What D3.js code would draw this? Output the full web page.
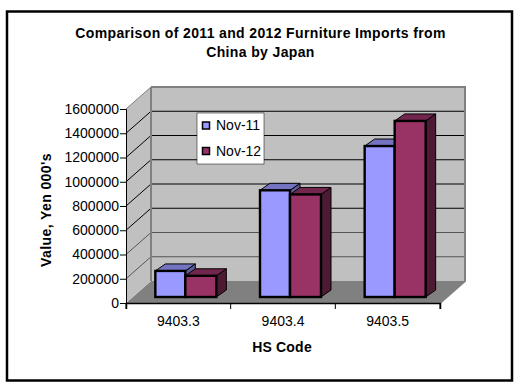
<!DOCTYPE html>
<html>
<head>
<meta charset="utf-8">
<script src="https://cdn.jsdelivr.net/npm/d3@7"></script>
<style>
  html, body { margin: 0; padding: 0; background: #fff; }
  svg { display: block; font-family: "Liberation Sans", Arial, sans-serif; }
</style>
</head>
<body>
<div id="chart"></div>
<script>
const CATEGORIES = ['9403.3', '9403.4', '9403.5'];
const SERIES_NAMES = ['Nov-11', 'Nov-12'];
const NOV_11 = [215000, 880000, 1245000];
const NOV_12 = [175000, 846000, 1452000];
const Y_TICKS = [0, 200000, 400000, 600000, 800000, 1000000, 1200000, 1400000, 1600000];
const TITLE_LINES = ['Comparison of 2011 and 2012 Furniture Imports from', 'China by Japan'];

const COLORS = [
  { front: '#9999ff', top: '#7373bf', side: '#5c5c99' },
  { front: '#993366', top: '#73264d', side: '#4d1a33' }
];

const WIDTH = 526;
const HEIGHT = 391;
const PLOT = { left: 126, right: 440, top: 109, bottom: 303 };
const DEPTH = { x: 25, y: -22 };
const BAR_DEPTH = { x: 10, y: -7 };
const BAR_OFFSET = { x: 7, y: -6 };

const svg = d3.select('#chart').append('svg')
  .attr('width', WIDTH)
  .attr('height', HEIGHT);

// outer frame
svg.append('rect')
  .attr('x', 7).attr('y', 11.5)
  .attr('width', 505).attr('height', 369)
  .attr('fill', '#fff')
  .attr('stroke', '#000')
  .attr('stroke-width', 2.5);

const xScale = d3.scaleBand().domain(CATEGORIES).range([PLOT.left, PLOT.right]).paddingInner(0).paddingOuter(0);
const yScale = d3.scaleLinear().domain([0, 1600000]).range([PLOT.bottom, PLOT.top]);

const pts = (arr) => arr.map((p) => p.join(',')).join(' ');

// walls and floor
const backX0 = PLOT.left + DEPTH.x;
const backX1 = PLOT.right + DEPTH.x;
const backTop = PLOT.top + DEPTH.y;
const backBottom = PLOT.bottom + DEPTH.y;

svg.append('polygon')
  .attr('points', pts([[PLOT.left, PLOT.bottom], [backX0, backBottom], [backX1, backBottom], [PLOT.right, PLOT.bottom]]))
  .attr('fill', '#808080');
svg.append('polygon')
  .attr('points', pts([[PLOT.left, PLOT.top], [backX0, backTop], [backX0, backBottom], [PLOT.left, PLOT.bottom]]))
  .attr('fill', '#c0c0c0');
svg.append('rect')
  .attr('x', backX0).attr('y', backTop)
  .attr('width', backX1 - backX0).attr('height', backBottom - backTop)
  .attr('fill', '#c0c0c0');

// gridlines, along the side wall and across the back
for (const t of Y_TICKS.slice(1, -1)) {
  svg.append('polyline')
    .attr('points', pts([[PLOT.left, yScale(t)], [backX0, yScale(t) + DEPTH.y], [backX1, yScale(t) + DEPTH.y]]))
    .attr('fill', 'none')
    .attr('stroke', t <= 400000 ? '#555' : '#000')
    .attr('stroke-width', 1);
}

// wall edges
svg.append('polyline')
  .attr('points', pts([[backX0, backTop], [backX1, backTop], [backX1, backBottom], [PLOT.right, PLOT.bottom]]))
  .attr('fill', 'none')
  .attr('stroke', '#808080')
  .attr('stroke-width', 2);
svg.append('line')
  .attr('x1', backX0).attr('x2', backX0)
  .attr('y1', backTop).attr('y2', backBottom)
  .attr('stroke', '#808080')
  .attr('stroke-width', 2);
svg.append('line')
  .attr('x1', PLOT.left).attr('x2', backX0)
  .attr('y1', PLOT.top).attr('y2', backTop)
  .attr('stroke', '#808080');

// bars
const BAR_WIDTHS = [30, 31];
const baseY = PLOT.bottom + BAR_OFFSET.y;

function drawBar(x0, barW, value, color) {
  const x1 = x0 + barW;
  const topY = yScale(value) + BAR_OFFSET.y;
  const dx = BAR_DEPTH.x;
  const dy = BAR_DEPTH.y;
  const g = svg.append('g').attr('stroke', '#000').attr('stroke-linejoin', 'miter');
  g.append('polygon')
    .attr('points', pts([[x1, topY], [x1 + dx, topY + dy], [x1 + dx, baseY + dy], [x1, baseY]]))
    .attr('fill', color.side).attr('stroke-width', 1);
  g.append('polygon')
    .attr('points', pts([[x0, topY], [x0 + dx, topY + dy], [x1 + dx, topY + dy], [x1, topY]]))
    .attr('fill', color.top).attr('stroke-width', 1);
  g.append('rect')
    .attr('x', x0).attr('y', topY)
    .attr('width', barW).attr('height', baseY - topY)
    .attr('fill', color.front)
    .attr('stroke-width', 2.4);
}

CATEGORIES.forEach((c, i) => {
  const cx = xScale(c) + xScale.bandwidth() / 2 + BAR_OFFSET.x;
  drawBar(cx - BAR_WIDTHS[0], BAR_WIDTHS[0], NOV_11[i], COLORS[0]);
  drawBar(cx, BAR_WIDTHS[1], NOV_12[i], COLORS[1]);
});

// axes
const yAxis = d3.axisLeft(yScale).tickValues(Y_TICKS).tickSize(6).tickPadding(1).tickFormat((d) => String(d));
const yG = svg.append('g').attr('transform', `translate(${PLOT.left},0)`).call(yAxis);
yG.selectAll('text').attr('font-size', 14).attr('fill', '#000');

const xAxis = d3.axisBottom(xScale).tickSize(6).tickSizeOuter(6).tickPadding(7);
const xG = svg.append('g').attr('transform', `translate(0,${PLOT.bottom})`).call(xAxis);
xG.selectAll('.tick line')
  .attr('transform', `translate(${xScale.bandwidth() / 2},0)`);
xG.append('line')
  .attr('x1', PLOT.left).attr('x2', PLOT.left)
  .attr('y1', 0).attr('y2', 6)
  .attr('stroke', '#000');
xG.selectAll('text').attr('font-size', 14).attr('fill', '#000');
xG.select('.domain').attr('stroke', '#000').attr('stroke-width', 1.5);
yG.select('.domain').attr('stroke', '#000');

// titles
svg.append('text')
  .attr('y', 37.5)
  .attr('text-anchor', 'middle')
  .attr('font-size', 14).attr('font-weight', 'bold')
  .attr('letter-spacing', 0.36)
  .selectAll('tspan').data(TITLE_LINES).join('tspan')
  .attr('x', 260.5)
  .attr('dy', (d, i) => (i ? 19 : 0))
  .text((d) => d);

svg.append('text')
  .attr('x', 282).attr('y', 352)
  .attr('text-anchor', 'middle')
  .attr('font-size', 14).attr('font-weight', 'bold')
  .attr('letter-spacing', 0.2)
  .text('HS Code');

svg.append('text')
  .attr('transform', 'translate(51,210) rotate(-90)')
  .attr('text-anchor', 'middle')
  .attr('font-size', 14).attr('font-weight', 'bold')
  .attr('letter-spacing', 0.4)
  .text("Value, Yen 000's");

// legend
const legendG = svg.append('g').attr('transform', 'translate(197,113)');
legendG.append('rect')
  .attr('width', 67).attr('height', 51)
  .attr('fill', '#fff')
  .attr('stroke', '#000')
  .attr('stroke-width', 0.5);
SERIES_NAMES.forEach((name, i) => {
  const y = 12.5 + i * 25.5;
  legendG.append('rect')
    .attr('x', 5.5).attr('y', y - 3.5)
    .attr('width', 7).attr('height', 7)
    .attr('fill', COLORS[i].front)
    .attr('stroke', '#000')
    .attr('stroke-width', 1.5);
  legendG.append('text')
    .attr('x', 19).attr('y', y)
    .attr('dy', '0.35em')
    .attr('font-size', 14)
    .text(name);
});
</script>
</body>
</html>
